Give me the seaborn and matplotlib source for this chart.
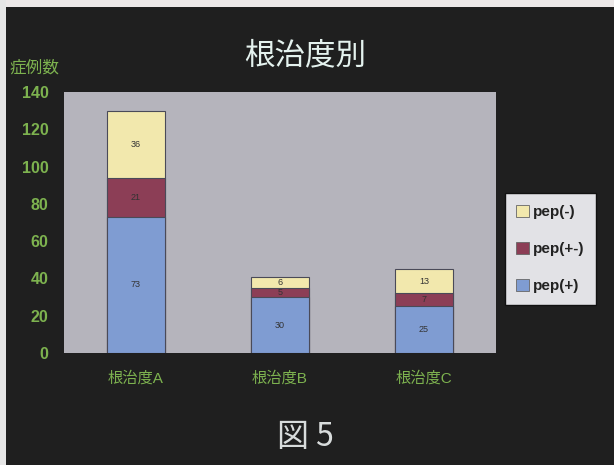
import numpy as np
import pandas as pd
import matplotlib
matplotlib.use("Agg")
import matplotlib.pyplot as plt
import matplotlib.patches as mpatches
import seaborn as sns

categories = ["根治度A", "根治度B", "根治度C"]
series_names = ["pep(+)", "pep(+-)", "pep(-)"]
pep_plus = [73, 30, 25]
pep_pm = [21, 5, 7]
pep_minus = [36, 6, 13]
yticks = [0, 20, 40, 60, 80, 100, 120, 140]

sns.set_theme(style="white")
plt.rcParams['font.family'] = ['Noto Sans CJK JP', 'DejaVu Sans']
latin = ['Liberation Sans', 'Noto Sans CJK JP']

colors = {"pep(+)": "#7f9cd2", "pep(+-)": "#8c3e56", "pep(-)": "#f2e8ad"}
green = "#7db24f"
bg = "#1f1f1f"

fig = plt.figure(figsize=(6.14, 4.65), dpi=100, facecolor=bg)
ax = fig.add_axes([64/614, 1-353/465, (496-64)/614, (353-92)/465])
ax.set_facecolor("#b5b4bc")

vals = [pep_plus, pep_pm, pep_minus]
cum = np.cumsum(np.array(vals), axis=0)
df = pd.DataFrame({"cat": categories})
for i in range(2, -1, -1):
    df["v"] = cum[i]
    sns.barplot(data=df, x="cat", y="v", color=colors[series_names[i]], saturation=1,
                width=0.4, edgecolor="#4a4a58", linewidth=0.8, ax=ax, zorder=2 + (2 - i))

for j in range(3):
    base = 0
    for i in range(3):
        v = vals[i][j]
        ax.text(j, base + v/2, str(v), ha="center", va="center", fontsize=6.5,
                color="#333333", zorder=10, family=latin)
        base += v

ax.set_xlim(-0.5, 2.5)
ax.set_ylim(0, 140)
ax.set_yticks(yticks)
ax.set_yticklabels([str(t) for t in yticks])
ax.set_xlabel("")
ax.set_ylabel("")
for s in ax.spines.values():
    s.set_visible(False)
ax.tick_params(axis="y", length=0, pad=11, labelsize=11.5, labelcolor=green)
ax.tick_params(axis="x", length=0, pad=13, labelsize=11, labelcolor=green)
for lab in ax.get_yticklabels():
    lab.set_fontweight("bold")
    lab.set_family(latin)
for lab in ax.get_xticklabels():
    lab.set_family(latin)

fig.text(305/614, 1-56/465, "根治度別", ha="center", va="center", fontsize=22,
         color="#e4f2ee")
fig.text(10/614, 1-68/465, "症例数", ha="left", va="center", fontsize=12,
         color=green)
fig.text(305/614, 1-437/465, "図 5", ha="center", va="center", fontsize=23,
         color="#d8dcdc")

handles = [mpatches.Patch(facecolor=colors[n], edgecolor="#666666", linewidth=0.6)
           for n in ["pep(-)", "pep(+-)", "pep(+)"]]
leg = fig.legend(handles, ["pep(-)", "pep(+-)", "pep(+)"], loc="center left",
                 bbox_to_anchor=(505/614, 1-249/465), frameon=True, fancybox=False,
                 facecolor="#e2e2e6", edgecolor="#111111", framealpha=1,
                 prop={"size": 11, "weight": "bold", "family": latin}, labelspacing=1.5,
                 handlelength=0.8, handleheight=0.8, handletextpad=0.3,
                 borderpad=0.75, borderaxespad=0)
for t in leg.get_texts():
    t.set_color("#222222")

fig.patches.append(mpatches.Rectangle((0, 1-7/465), 1, 7/465, transform=fig.transFigure,
                                      facecolor="#ece8e8", edgecolor="none", zorder=0))
fig.patches.append(mpatches.Rectangle((0, 0), 6/614, 1, transform=fig.transFigure,
                                      facecolor="#e6e6e6", edgecolor="none", zorder=0))

fig.savefig("out.png", dpi=100, facecolor=bg)
